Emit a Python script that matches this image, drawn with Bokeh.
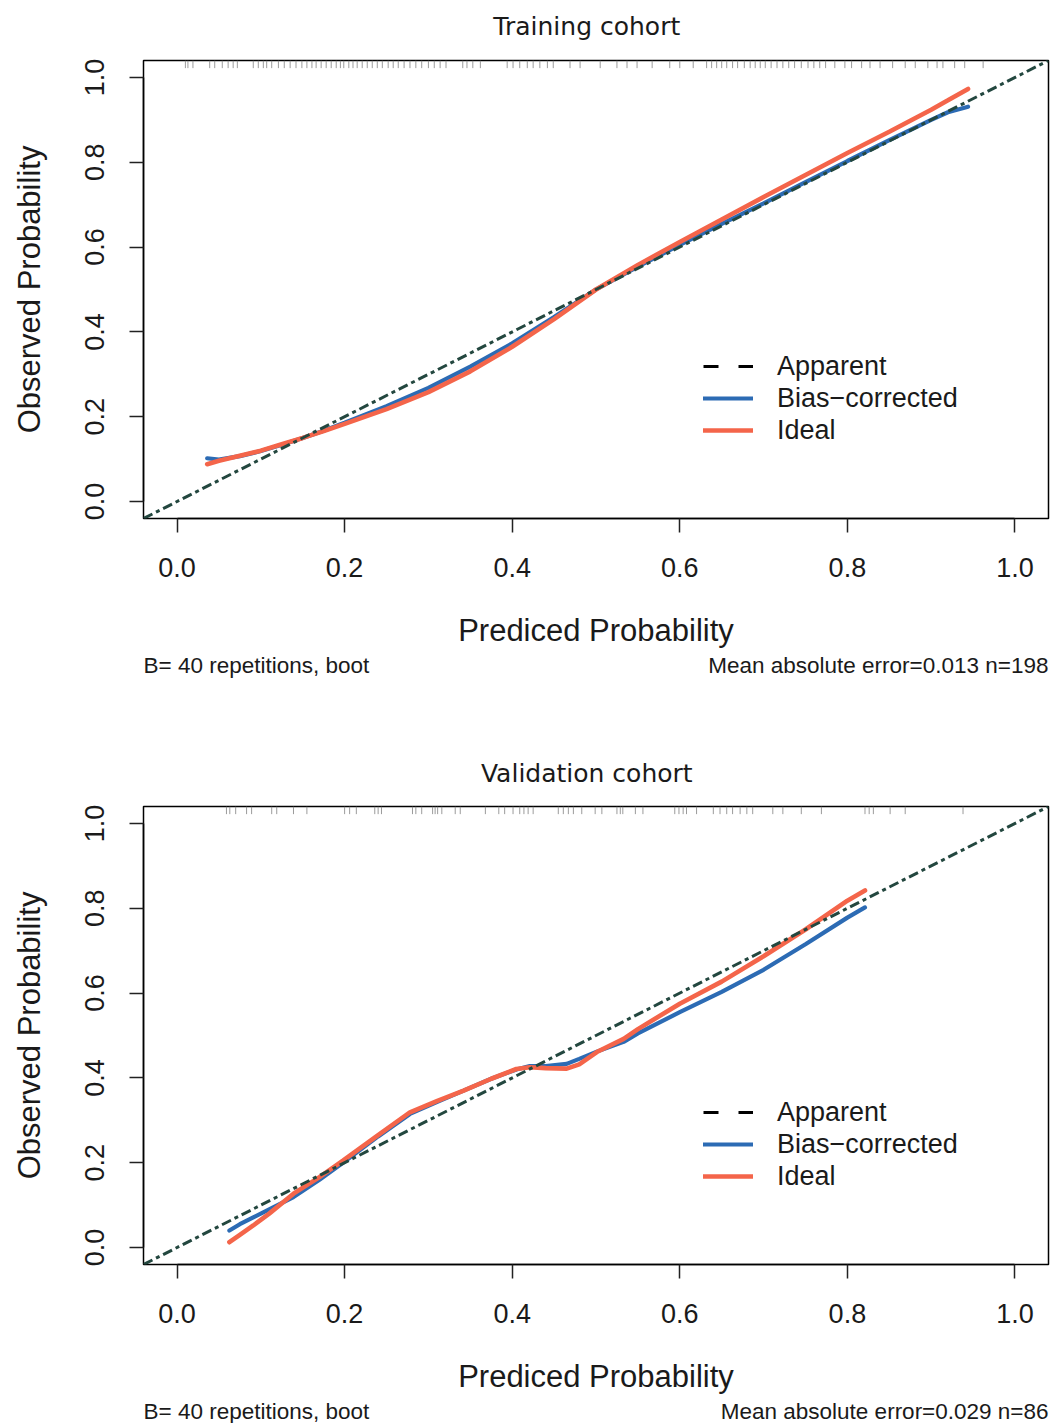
from bokeh.plotting import figure
from bokeh.models import (Range1d, FixedTicker, Legend, LegendItem,
                          PrintfTickFormatter)
from bokeh.core.properties import value
from bokeh.layouts import column
from bokeh.embed import file_html
from bokeh.resources import INLINE

# ---------------- data ----------------
AXIS_LIMITS = [-0.04, 1.04]
TICKS = [0.0, 0.2, 0.4, 0.6, 0.8, 1.0]
TICK_LABELS = ["0.0", "0.2", "0.4", "0.6", "0.8", "1.0"]

TITLES = ["Training cohort", "Validation cohort"]
X_LABEL = "Prediced Probability"
Y_LABEL = "Observed Probability"
LEGEND_LABELS = ["Apparent", "Bias\u2212corrected", "Ideal"]
FOOT_LEFT = ["B= 40 repetitions, boot", "B= 40 repetitions, boot"]
FOOT_RIGHT = ["Mean absolute error=0.013 n=198", "Mean absolute error=0.029 n=86"]

# training cohort
train_x = [0.036, 0.05, 0.075, 0.1, 0.125, 0.15, 0.175, 0.2, 0.25, 0.3, 0.35, 0.4,
           0.45, 0.5, 0.55, 0.6, 0.65, 0.7, 0.75, 0.8, 0.85, 0.9, 0.92, 0.944]
train_red = [0.088, 0.096, 0.108, 0.12, 0.135, 0.15, 0.166, 0.183, 0.218, 0.258, 0.307, 0.365,
             0.43, 0.5, 0.558, 0.612, 0.665, 0.718, 0.77, 0.822, 0.872, 0.924, 0.946, 0.973]
train_blue = [0.102, 0.099, 0.107, 0.119, 0.134, 0.15, 0.167, 0.186, 0.225, 0.268, 0.318, 0.373,
              0.435, 0.5, 0.554, 0.605, 0.655, 0.703, 0.753, 0.803, 0.852, 0.9, 0.918, 0.931]
train_rug = [0.010, 0.013, 0.019, 0.039, 0.045, 0.054, 0.061, 0.067, 0.072, 0.091, 0.097, 0.103,
             0.107, 0.113, 0.121, 0.128, 0.135, 0.142, 0.149, 0.155, 0.161, 0.166, 0.172, 0.178,
             0.184, 0.190, 0.195, 0.199, 0.205, 0.210, 0.215, 0.221, 0.227, 0.233, 0.239, 0.245,
             0.252, 0.258, 0.264, 0.271, 0.278, 0.285, 0.292, 0.300, 0.307, 0.314, 0.321, 0.341,
             0.346, 0.353, 0.362, 0.394, 0.401, 0.409, 0.418, 0.425, 0.433, 0.442, 0.449, 0.469,
             0.481, 0.505, 0.525, 0.537, 0.549, 0.567, 0.588, 0.600, 0.616, 0.632, 0.638, 0.644,
             0.650, 0.656, 0.663, 0.669, 0.677, 0.684, 0.690, 0.696, 0.702, 0.709, 0.716, 0.723,
             0.730, 0.737, 0.745, 0.753, 0.760, 0.767, 0.774, 0.785, 0.797, 0.805, 0.817, 0.827,
             0.839, 0.854, 0.869, 0.881, 0.896, 0.907, 0.914, 0.928, 0.940, 0.962]

# validation cohort
valid_x = [0.0625, 0.075, 0.091, 0.11, 0.139, 0.17, 0.198, 0.24, 0.278, 0.31, 0.342, 0.375,
           0.405, 0.421, 0.44, 0.465, 0.48, 0.501, 0.533, 0.55, 0.6, 0.65, 0.7, 0.75, 0.8, 0.821]
valid_red = [0.0125, 0.03, 0.052, 0.08, 0.127, 0.166, 0.205, 0.265, 0.319, 0.345, 0.370, 0.398,
             0.421, 0.425, 0.423, 0.422, 0.432, 0.461, 0.492, 0.515, 0.575, 0.627, 0.687, 0.75,
             0.818, 0.842]
valid_blue = [0.040, 0.055, 0.071, 0.09, 0.119, 0.16, 0.2, 0.262, 0.315, 0.343, 0.37, 0.398,
              0.42, 0.428, 0.428, 0.433, 0.445, 0.462, 0.485, 0.505, 0.555, 0.603, 0.655, 0.715,
              0.778, 0.802]
valid_rug = [0.059, 0.063, 0.070, 0.083, 0.089, 0.113, 0.119, 0.139, 0.155, 0.200, 0.206, 0.214,
             0.236, 0.240, 0.244, 0.281, 0.285, 0.292, 0.305, 0.308, 0.311, 0.316, 0.332, 0.338,
             0.368, 0.384, 0.391, 0.401, 0.409, 0.414, 0.419, 0.425, 0.455, 0.461, 0.467, 0.473,
             0.483, 0.499, 0.507, 0.525, 0.529, 0.532, 0.547, 0.556, 0.594, 0.599, 0.604, 0.608,
             0.620, 0.640, 0.648, 0.656, 0.663, 0.672, 0.680, 0.687, 0.711, 0.723, 0.745, 0.769,
             0.821, 0.826, 0.831, 0.851, 0.869, 0.938]

# ---------------- style / layout ----------------
BLUE = "#2C6BB4"
RED = "#F4654A"
DIAG = "#23473F"
TXT = "#1a1a1a"
SANS = "Liberation Sans"
TITLE_FONT = "DejaVu Sans"

PAGE_W = 1064
LEFT, RIGHT = 143, 16
FRAME_H = 458


def text_fig(height, items):
    """A strip figure (frame aligned with the plots) holding text rows."""
    f = figure(width=PAGE_W, height=height, x_range=Range1d(*AXIS_LIMITS),
               y_range=Range1d(height, 0), output_backend="svg", toolbar_location=None,
               tools="", x_axis_location=None, y_axis_location=None,
               min_border_left=LEFT, min_border_right=RIGHT,
               min_border_top=0, min_border_bottom=0)
    f.xgrid.visible = False
    f.ygrid.visible = False
    f.outline_line_color = None
    f.background_fill_color = "white"
    f.border_fill_color = "white"
    for (x, y, txt, align, font, size) in items:
        f.text(x=[x], y=[y], text=[txt], text_align=align, text_baseline="middle",
               text_font=value(font), text_font_size=size, text_color=TXT)
    return f


def make_panel(xs, red, blue, rug, top_border, bottom_border):
    p = figure(width=PAGE_W, height=top_border + FRAME_H + bottom_border,
               x_range=Range1d(*AXIS_LIMITS), y_range=Range1d(*AXIS_LIMITS),
               output_backend="svg", toolbar_location=None, tools="",
               min_border_left=LEFT, min_border_right=RIGHT,
               min_border_top=top_border, min_border_bottom=bottom_border)
    p.xgrid.visible = False
    p.ygrid.visible = False
    p.outline_line_color = "black"
    p.outline_line_width = 1.5
    p.background_fill_color = "white"
    p.border_fill_color = "white"

    for ax in (p.xaxis[0], p.yaxis[0]):
        ax.ticker = FixedTicker(ticks=TICKS)
        ax.formatter = PrintfTickFormatter(format="%.1f")
        ax.major_label_overrides = {t: l for t, l in zip(TICKS, TICK_LABELS)}
        ax.bounds = (TICKS[0], TICKS[-1])
        ax.axis_line_color = "black"
        ax.axis_line_width = 1.5
        ax.major_tick_line_color = "#222222"
        ax.major_tick_line_width = 1.5
        ax.major_tick_in = 0
        ax.major_tick_out = 14
        ax.minor_tick_line_color = None
        ax.major_label_text_font = SANS
        ax.major_label_text_font_size = "27px"
        ax.major_label_text_color = TXT
        ax.major_label_standoff = 25
        ax.axis_label_text_font = SANS
        ax.axis_label_text_font_size = "31px"
        ax.axis_label_text_font_style = "normal"
        ax.axis_label_text_color = TXT
    p.xaxis.axis_label = X_LABEL
    p.yaxis.axis_label = Y_LABEL
    p.xaxis.axis_label_standoff = 33
    p.yaxis.axis_label_standoff = 36
    p.yaxis.major_label_orientation = "vertical"

    # rug of predicted probabilities along the top edge
    n = len(rug)
    p.segment(x0=rug, x1=rug, y0=[AXIS_LIMITS[1]] * n, y1=[AXIS_LIMITS[1] - 0.018] * n,
              line_color="#8a8a8a", line_width=1, line_alpha=0.85)

    r_blue = p.line(xs, blue, line_color=BLUE, line_width=4.2, line_cap="round")
    r_red = p.line(xs, red, line_color=RED, line_width=4.6, line_cap="round")
    p.line(AXIS_LIMITS, AXIS_LIMITS, line_color=DIAG, line_width=3, line_dash="10 4 4 4")
    nan = float("nan")
    r_app = p.line([nan], [nan], line_color="black", line_width=3, line_dash="15 20")

    legend = Legend(items=[LegendItem(label=LEGEND_LABELS[0], renderers=[r_app]),
                           LegendItem(label=LEGEND_LABELS[1], renderers=[r_blue]),
                           LegendItem(label=LEGEND_LABELS[2], renderers=[r_red])],
                    location=(560, 72), padding=0, margin=0, spacing=0,
                    border_line_color=None, background_fill_alpha=0,
                    glyph_width=50, glyph_height=32, label_height=32,
                    label_standoff=24, label_text_font=SANS,
                    label_text_font_size="27px", label_text_color=TXT)
    p.add_layout(legend, "center")
    return p


title_x = 0.489
head1 = text_fig(50, [(title_x, 26, TITLES[0], "center", TITLE_FONT, "25px")])
p1 = make_panel(train_x, train_red, train_blue, train_rug, 10, 132)
foot1 = text_fig(95, [(AXIS_LIMITS[0], 15, FOOT_LEFT[0], "left", SANS, "22.5px"),
                      (AXIS_LIMITS[1], 15, FOOT_RIGHT[0], "right", SANS, "22.5px")])
head2 = text_fig(51, [(title_x, 28, TITLES[1], "center", TITLE_FONT, "25px")])
p2 = make_panel(valid_x, valid_red, valid_blue, valid_rug, 10, 132)
foot2 = text_fig(27, [(AXIS_LIMITS[0], 15, FOOT_LEFT[1], "left", SANS, "22.5px"),
                      (AXIS_LIMITS[1], 15, FOOT_RIGHT[1], "right", SANS, "22.5px")])

page = column(head1, p1, foot1, head2, p2, foot2, spacing=0)

open("out.html", "w").write(file_html(page, INLINE))
